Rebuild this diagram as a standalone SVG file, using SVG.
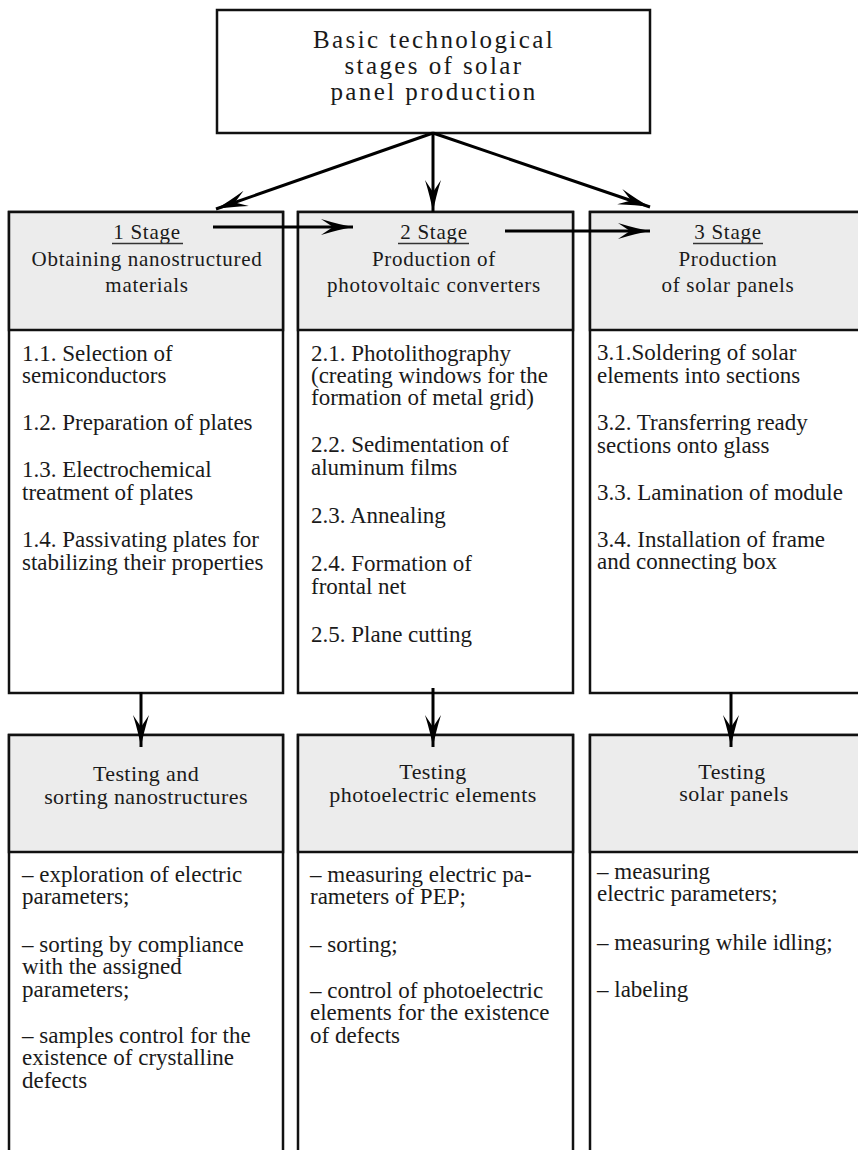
<svg xmlns="http://www.w3.org/2000/svg" width="858" height="1150" viewBox="0 0 858 1150">
<style>
.box{fill:#ffffff;stroke:#111;stroke-width:2.5}
.hdr{fill:#ececec;stroke:#111;stroke-width:2.5}
.t{font-family:"Liberation Serif","Times New Roman",serif;fill:#1a1a1a}
.title{font-size:25px;letter-spacing:2.4px;text-anchor:middle}
.sh{font-size:21px;letter-spacing:0.7px;text-anchor:middle}
.th{font-size:22px;letter-spacing:0.4px;text-anchor:middle}
.b{font-size:23px}
.ul{stroke:#333;stroke-width:1.3}
.c{stroke:#000;stroke-width:3;fill:none}
</style>
<defs>
<marker id="ah" markerUnits="userSpaceOnUse" markerWidth="34" markerHeight="18" refX="32" refY="9" orient="auto" viewBox="0 0 34 18">
<path d="M0,1 Q18,6.5 32,9 Q18,11.5 0,17 L12,9 Z" fill="#000"/>
</marker>
</defs>

<g id="top">
<rect class="box" x="217" y="10" width="433" height="123"/>
<text class="t title" x="434" y="48">Basic technological</text>
<text class="t title" x="434" y="74">stages of solar</text>
<text class="t title" x="434" y="100">panel production</text>
</g>

<g id="stage1">
<rect class="box" x="9" y="212" width="274" height="481"/>
<rect class="hdr" x="9" y="212" width="274" height="118"/>
<text class="t sh" x="147" y="239">1 Stage</text>
<line class="ul" x1="112" y1="243.5" x2="183" y2="243.5"/>
<text class="t sh" x="147" y="266">Obtaining nanostructured</text>
<text class="t sh" x="147" y="292">materials</text>
<text class="t b" x="22" y="361">1.1. Selection of</text>
<text class="t b" x="22" y="383">semiconductors</text>
<text class="t b" x="22" y="430">1.2. Preparation of plates</text>
<text class="t b" x="22" y="477">1.3. Electrochemical</text>
<text class="t b" x="22" y="500">treatment of plates</text>
<text class="t b" x="22" y="547">1.4. Passivating plates for</text>
<text class="t b" x="22" y="570">stabilizing their properties</text>
</g>

<g id="stage2">
<rect class="box" x="298" y="212" width="275" height="481"/>
<rect class="hdr" x="298" y="212" width="275" height="118"/>
<text class="t sh" x="434" y="239">2 Stage</text>
<line class="ul" x1="398" y1="243.5" x2="469" y2="243.5"/>
<text class="t sh" x="434" y="266">Production of</text>
<text class="t sh" x="434" y="292">photovoltaic converters</text>
<text class="t b" x="311" y="361">2.1. Photolithography</text>
<text class="t b" x="311" y="383">(creating windows for the</text>
<text class="t b" x="311" y="405">formation of metal grid)</text>
<text class="t b" x="311" y="452">2.2. Sedimentation of</text>
<text class="t b" x="311" y="475">aluminum films</text>
<text class="t b" x="311" y="523">2.3. Annealing</text>
<text class="t b" x="311" y="571">2.4. Formation of</text>
<text class="t b" x="311" y="594">frontal net</text>
<text class="t b" x="311" y="642">2.5. Plane cutting</text>
</g>

<g id="stage3">
<rect class="box" x="590" y="212" width="282" height="481"/>
<rect class="hdr" x="590" y="212" width="282" height="118"/>
<text class="t sh" x="728" y="239">3 Stage</text>
<line class="ul" x1="693" y1="243.5" x2="763" y2="243.5"/>
<text class="t sh" x="728" y="266">Production</text>
<text class="t sh" x="728" y="292">of solar panels</text>
<text class="t b" x="597" y="360">3.1.Soldering of solar</text>
<text class="t b" x="597" y="383">elements into sections</text>
<text class="t b" x="597" y="430">3.2. Transferring ready</text>
<text class="t b" x="597" y="453">sections onto glass</text>
<text class="t b" x="597" y="500">3.3. Lamination of module</text>
<text class="t b" x="597" y="547">3.4. Installation of frame</text>
<text class="t b" x="597" y="569">and connecting box</text>
</g>

<g id="test1">
<rect class="box" x="9" y="735" width="274" height="440"/>
<rect class="hdr" x="9" y="735" width="274" height="117"/>
<text class="t th" x="146" y="781">Testing and</text>
<text class="t th" x="146" y="804">sorting nanostructures</text>
<text class="t b" x="22" y="882">– exploration of electric</text>
<text class="t b" x="22" y="904">parameters;</text>
<text class="t b" x="22" y="952">– sorting by compliance</text>
<text class="t b" x="22" y="974">with the assigned</text>
<text class="t b" x="22" y="997">parameters;</text>
<text class="t b" x="22" y="1043">– samples control for the</text>
<text class="t b" x="22" y="1065">existence of crystalline</text>
<text class="t b" x="22" y="1088">defects</text>
</g>

<g id="test2">
<rect class="box" x="298" y="735" width="275" height="440"/>
<rect class="hdr" x="298" y="735" width="275" height="117"/>
<text class="t th" x="433" y="779">Testing</text>
<text class="t th" x="433" y="802">photoelectric elements</text>
<text class="t b" x="310" y="882">– measuring electric pa-</text>
<text class="t b" x="310" y="904">rameters of PEP;</text>
<text class="t b" x="310" y="952">– sorting;</text>
<text class="t b" x="310" y="998">– control of photoelectric</text>
<text class="t b" x="310" y="1020">elements for the existence</text>
<text class="t b" x="310" y="1043">of defects</text>
</g>

<g id="test3">
<rect class="box" x="590" y="735" width="282" height="440"/>
<rect class="hdr" x="590" y="735" width="282" height="117"/>
<text class="t th" x="732" y="779">Testing</text>
<text class="t th" x="734" y="801">solar panels</text>
<text class="t b" x="597" y="879">– measuring</text>
<text class="t b" x="597" y="901">electric parameters;</text>
<text class="t b" x="597" y="950">– measuring while idling;</text>
<text class="t b" x="597" y="997">– labeling</text>
</g>

<g id="connectors">
<line class="c" x1="433" y1="133" x2="216" y2="209" marker-end="url(#ah)"/>
<line class="c" x1="433" y1="133" x2="433" y2="212" marker-end="url(#ah)"/>
<line class="c" x1="433" y1="133" x2="650" y2="207" marker-end="url(#ah)"/>
<line class="c" x1="213" y1="227" x2="353" y2="227" marker-end="url(#ah)"/>
<line class="c" x1="505" y1="231" x2="650" y2="231" marker-end="url(#ah)"/>
<line class="c" x1="141" y1="692" x2="141" y2="747" marker-end="url(#ah)"/>
<line class="c" x1="433" y1="688" x2="433" y2="747" marker-end="url(#ah)"/>
<line class="c" x1="731" y1="692" x2="731" y2="747" marker-end="url(#ah)"/>
</g>
</svg>
